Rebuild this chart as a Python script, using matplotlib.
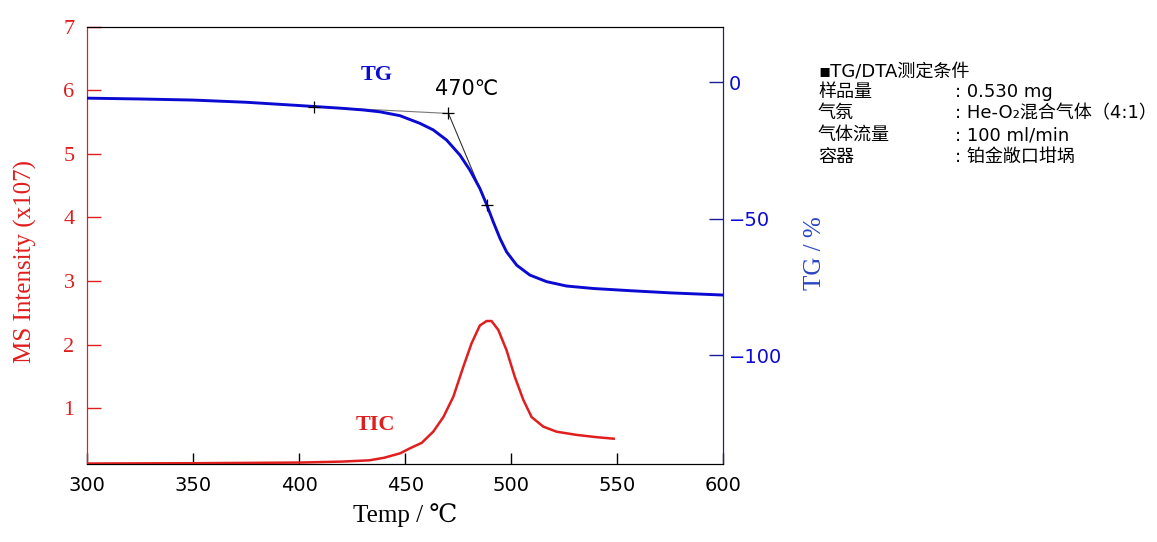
import matplotlib
matplotlib.use("Agg")
import matplotlib.pyplot as plt

# TG curve (temperature in C, mass change in %)
tg_temp = [300, 325, 350, 375, 400, 410, 420, 430, 438.1, 447.5, 456.9, 463.2, 469.5,
           475.8, 480.5, 485.2, 488.4, 491.5, 494.7, 497.8, 502.6, 508.8, 516.7,
           526.1, 538.7, 556, 575, 600]
tg_val = [-5.9, -6.2, -6.6, -7.4, -8.6, -9.1, -9.6, -10.2, -10.9, -12.3, -15.1, -17.5,
          -21.2, -26.7, -32.2, -38.9, -44.8, -51.1, -57.2, -62.1, -67.0, -70.6, -73.0,
          -74.6, -75.5, -76.3, -77.1, -77.9]

# TIC (MS intensity x10^7)
tic_temp = [300, 350, 400, 420, 433, 440, 447.6, 452.3, 457.8, 463.2, 468.0, 472.7,
            477.4, 481.3, 485.2, 488.4, 490.7, 493.9, 497.8, 501.7, 505.7, 509.6,
            515.1, 521.4, 530.8, 540, 548.3]
tic_val = [0.13, 0.135, 0.145, 0.16, 0.18, 0.22, 0.29, 0.37, 0.455, 0.63, 0.86, 1.18,
           1.65, 2.02, 2.30, 2.37, 2.37, 2.23, 1.91, 1.49, 1.13, 0.86, 0.71, 0.63,
           0.58, 0.545, 0.52]

# onset construction points
onset_temp = [407.2, 470.4, 488.4]
onset_tg = [-9.0, -11.5, -44.8]

cond_names = ["样品量", "气氛", "气体流量", "容器"]
cond_values = [": 0.530 mg", ": He-O\u2082混合气体（4:1）", ": 100 ml/min", ": 铂金敞口坩埚"]

RED = "#e01e1e"
BLUE = "#0a0ad2"
NAVY = "#1a1a9a"
SERIF = ["Liberation Serif", "DejaVu Serif", "Noto Sans CJK SC"]
SANS = ["DejaVu Sans", "Noto Sans CJK SC"]

fig = plt.figure(figsize=(11.57, 5.42), dpi=100)
ax = fig.add_axes([0.0752, 0.1448, 0.5500, 0.8063])
ax2 = ax.twinx()

ax.plot(tic_temp, tic_val, color=RED, lw=1.8, zorder=3)
ax.set_xlim(300, 600)
ax.set_ylim(0.13, 7)
ax.set_yticks([1, 2, 3, 4, 5, 6, 7])
ax.set_xticks([300, 350, 400, 450, 500, 550, 600])

ax2.plot(onset_temp[:2], onset_tg[:2], color="#777777", lw=0.8, zorder=2)
ax2.plot(onset_temp[1:], onset_tg[1:], color="#333333", lw=0.8, zorder=2)
ax2.plot(tg_temp, tg_val, color=BLUE, lw=2.1, zorder=3)
ax2.plot(onset_temp, onset_tg, ls="none", marker="+", ms=8, mew=0.9, color="k", zorder=4)
ax2.set_ylim(-139.5, 20.3)
ax2.set_yticks([0, -50, -100])
ax2.set_yticklabels(["0", "\u221250", "\u2212100"])

# spines / ticks
for a in (ax, ax2):
    a.spines["left"].set_color(RED)
    a.spines["right"].set_color(NAVY)
    a.spines["top"].set_color("black")
    a.spines["bottom"].set_color("black")
ax.tick_params(axis="x", direction="in", length=8, width=1, pad=9, labelsize=14)
ax.tick_params(axis="y", direction="in", length=10, width=1, color=RED,
               labelcolor=RED, pad=9)
ax2.tick_params(axis="y", direction="in", length=10, width=1, color=NAVY,
                labelcolor=BLUE, pad=4, labelsize=14)
for lbl in ax.get_xticklabels():
    lbl.set_family(SANS)
for lbl in ax.get_yticklabels():
    lbl.set_family(SERIF)
    lbl.set_fontsize(16)
for lbl in ax2.get_yticklabels():
    lbl.set_family(SANS)

ax.set_xlabel("Temp / \u2103", family=SERIF, fontsize=18, color="black", labelpad=6)
ax.set_ylabel("MS Intensity (x107)", family=SERIF, fontsize=18, color=RED)
ax.yaxis.set_label_coords(-0.078, 0.463)
ax2.set_ylabel("TG / %", family=SERIF, fontsize=18, color="#2a45c0")
ax2.yaxis.set_label_coords(1.126, 0.482)

ax2.text(436.8, 2.6, "TG", family=SERIF, fontsize=16, fontweight="bold",
         color=BLUE, ha="center", va="center")
ax2.text(478.8, -2.6, "470\u2103", family=SANS, fontsize=15, color="black",
         ha="center", va="center")
ax.text(435.8, 0.73, "TIC", family=SERIF, fontsize=16, fontweight="bold",
        color=RED, ha="center", va="center")

# measurement conditions
fig.text(0.707, 1 - 71 / 542, "\u25aaTG/DTA测定条件", family=SANS, fontsize=13,
         va="center", ha="left")
row_y = [92, 113, 135, 157]
for name, val, py in zip(cond_names, cond_values, row_y):
    fig.text(0.707, 1 - py / 542, name, family=SANS, fontsize=13, va="center", ha="left")
    fig.text(0.8254, 1 - py / 542, val, family=SANS, fontsize=13, va="center", ha="left")

fig.savefig("out.png", dpi=100)
